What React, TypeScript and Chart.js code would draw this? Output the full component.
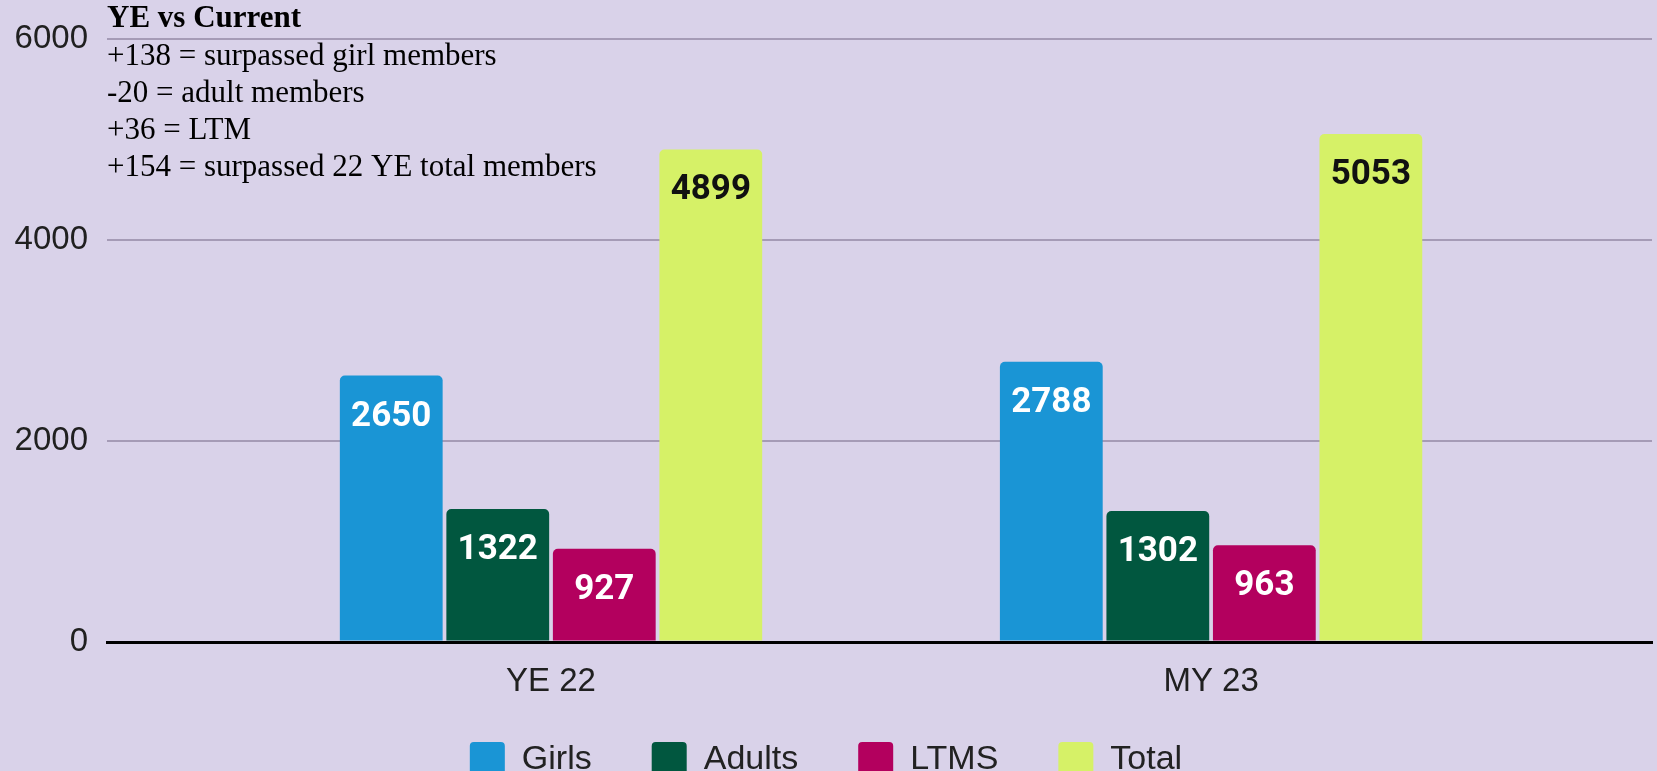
import React, { useEffect, useRef } from 'react';
import { Chart, registerables } from 'chart.js';

Chart.register(...registerables);

const categories = ['YE 22', 'MY 23'];
const seriesNames = ['Girls', 'Adults', 'LTMS', 'Total'];
const girls = [2650, 2788];
const adults = [1322, 1302];
const ltms = [927, 963];
const total = [4899, 5053];
const yTickValues = [0, 2000, 4000, 6000];
const noteTitle = 'YE vs Current';
const noteLines = [
  '+138 = surpassed girl members',
  '-20 = adult members',
  '+36 = LTM',
  '+154 = surpassed 22 YE total members',
];

const seriesValues = [girls, adults, ltms, total];
const barColors = ['#1a95d5', '#01573f', '#b3005e', '#d6f167'];
const valueLabelColors = ['#ffffff', '#ffffff', '#ffffff', '#111111'];

const W = 1657;
const H = 771;

const valueLabelPlugin = {
  id: 'valueLabels',
  afterDatasetsDraw(chart: any) {
    const ctx = chart.ctx;
    ctx.save();
    ctx.font = 'bold 35px Roboto, "Liberation Sans", sans-serif';
    ctx.textAlign = 'center';
    ctx.textBaseline = 'alphabetic';
    chart.data.datasets.forEach((ds: any, di: number) => {
      const meta = chart.getDatasetMeta(di);
      meta.data.forEach((el: any, i: number) => {
        const v = seriesValues[di][i];
        ctx.fillStyle = valueLabelColors[di];
        ctx.fillText(String(v), el.x, el.y + 50);
      });
    });
    ctx.restore();
  },
};

const notePlugin = {
  id: 'note',
  afterDraw(chart: any) {
    const ctx = chart.ctx;
    const left = chart.chartArea.left;
    ctx.save();
    ctx.fillStyle = '#000000';
    ctx.textAlign = 'left';
    ctx.textBaseline = 'alphabetic';
    ctx.font = 'bold 31px "Liberation Serif", serif';
    ctx.fillText(noteTitle, left, 27);
    ctx.font = '31px "Liberation Serif", serif';
    noteLines.forEach((line, i) => {
      ctx.fillText(line, left, 65 + i * 37);
    });
    ctx.restore();
  },
};

// keep x tick labels from being clipped to the (deliberately short) x-scale box
const unclipXLabels = {
  id: 'unclipXLabels',
  afterLayout(chart: any) {
    const xs = chart.scales.x;
    if (xs) xs._computeLabelArea = () => undefined;
  },
};

export default function App() {
  const ref = useRef<HTMLCanvasElement | null>(null);

  useEffect(() => {
    if (!ref.current) return;
    const chart = new Chart(ref.current, {
      type: 'bar',
      data: {
        datasets: seriesNames.map((name, di) => ({
          label: name,
          data: seriesValues[di].map((v, i) => ({ x: i, y: v })),
          backgroundColor: barColors[di],
          borderRadius: 5,
          categoryPercentage: 0.6455,
          barPercentage: 0.965,
        })),
      },
      options: {
        animation: false,
        responsive: false,
        maintainAspectRatio: false,
        devicePixelRatio: 1,
        layout: { padding: { top: 34, right: 5, left: 0, bottom: -16 } },
        plugins: {
          tooltip: { enabled: false },
          title: { display: false },
          legend: {
            display: true,
            position: 'bottom',
            labels: {
              boxWidth: 35,
              boxHeight: 35,
              useBorderRadius: true,
              borderRadius: 4,
              padding: 60,
              color: '#222222',
              font: { family: '"Liberation Sans", Arial, sans-serif', size: 34 },
            },
          },
        },
        scales: {
          x: {
            type: 'linear',
            min: -0.6727,
            max: 1.668,
            offset: false,
            grid: { display: false, drawTicks: false },
            border: { display: true, color: '#000000', width: 3 },
            afterBuildTicks: (scale: any) => {
              scale.ticks = categories.map((_, i) => ({ value: i }));
            },
            afterFit: (scale: any) => {
              scale.height = 40;
            },
            ticks: {
              padding: 20,
              color: '#202020',
              font: { family: '"Liberation Sans", Arial, sans-serif', size: 33 },
              callback: (v: any) => {
                const i = Number(v);
                return Number.isInteger(i) && categories[i] ? categories[i] : '';
              },
            },
          },
          y: {
            min: 0,
            max: 6000,
            afterBuildTicks: (scale: any) => {
              scale.ticks = yTickValues.map((v) => ({ value: v }));
            },
            afterFit: (scale: any) => {
              scale.width = 107;
            },
            grid: {
              drawTicks: false,
              color: (c: any) => (c.tick && c.tick.value === 0 ? '#000000' : '#a59bb6'),
              lineWidth: (c: any) => (c.tick && c.tick.value === 0 ? 3 : 2),
            },
            border: { display: false },
            ticks: {
              padding: 19,
              color: '#202020',
              font: { family: '"Liberation Sans", Arial, sans-serif', size: 33 },
              callback: (v: any) => String(v),
            },
          },
        },
      },
      plugins: [valueLabelPlugin, notePlugin, unclipXLabels],
    });
    return () => chart.destroy();
  }, []);

  return (
    <div
      style={{
        position: 'fixed',
        left: 0,
        top: 0,
        width: W,
        height: H,
        background: '#d9d2e9',
      }}
    >
      <canvas ref={ref} width={W} height={H} style={{ width: W, height: H, display: 'block' }} />
    </div>
  );
}
